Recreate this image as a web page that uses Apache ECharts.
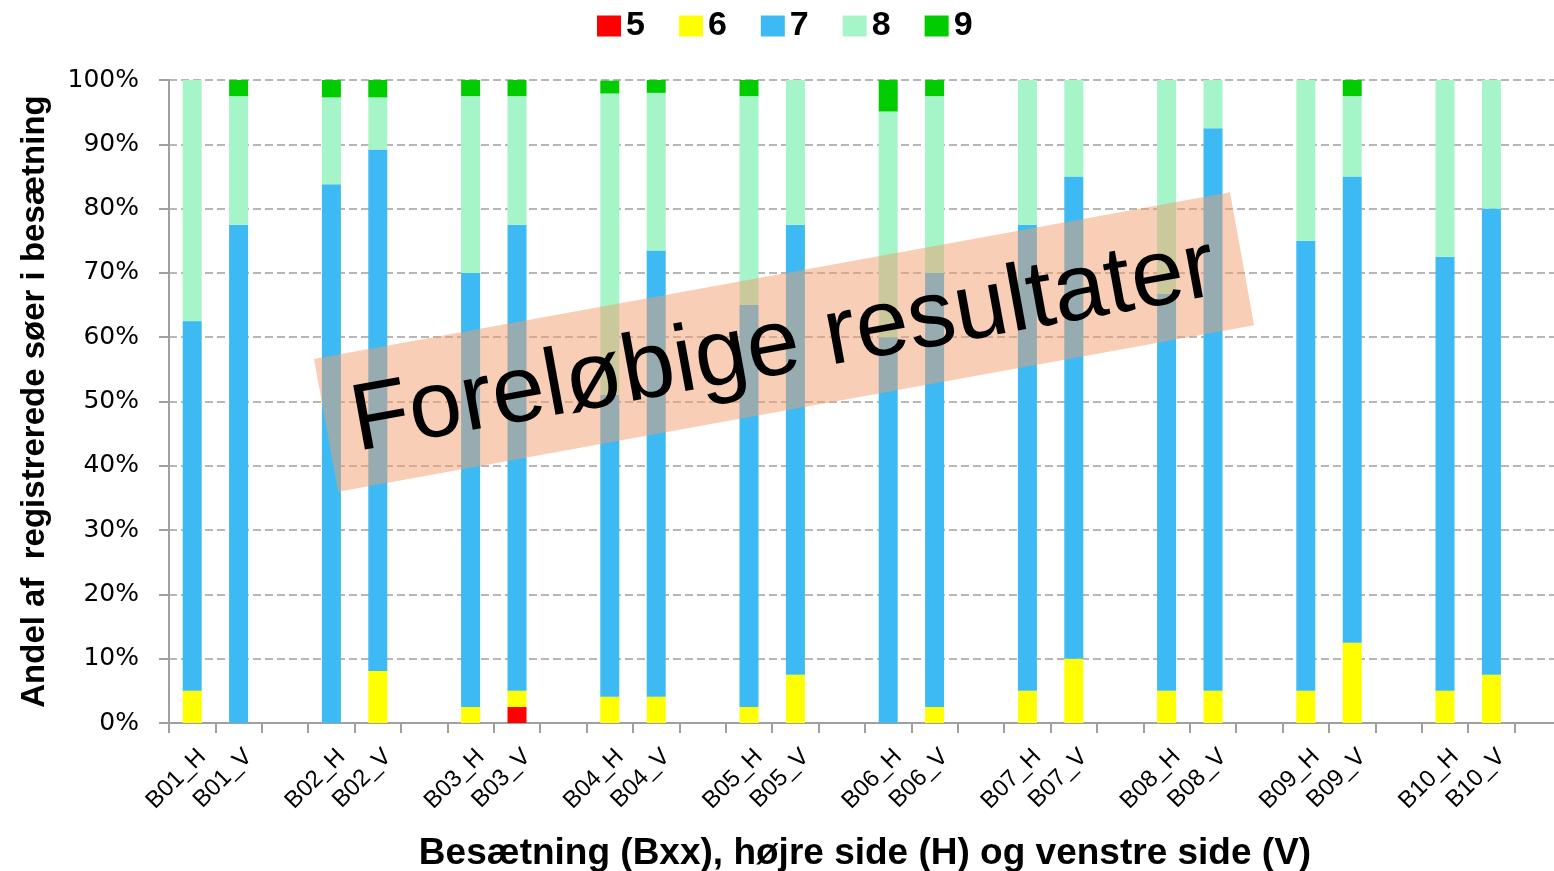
<!DOCTYPE html>
<html>
<head>
<meta charset="utf-8">
<title>Foreløbige resultater</title>
<script src="https://cdn.jsdelivr.net/npm/echarts@6/dist/echarts.min.js"></script>
<style>
  html, body { margin: 0; padding: 0; background: #fff; }
  #chart { width: 1554px; height: 871px; }
</style>
</head>
<body>
<div id="chart"></div>
<script>
// herds, each with right side (H) and left side (V); an empty slot follows every herd
const herds = ['B01', 'B02', 'B03', 'B04', 'B05', 'B06', 'B07', 'B08', 'B09', 'B10'];
const sides = ['H', 'V'];
const seriesNames = ['5', '6', '7', '8', '9'];
const seriesColors = ['#ff0000', '#ffff00', '#3dbaf3', '#a5f5c8', '#00cc00'];
const yTicks = [0, 10, 20, 30, 40, 50, 60, 70, 80, 90, 100];

// share in % per bar, order: B01_H, B01_V, B02_H, B02_V, ... B10_H, B10_V
const score5 = [0, 0, 0, 0, 0, 2.5, 0, 0, 0, 0, 0, 0, 0, 0, 0, 0, 0, 0, 0, 0];
const score6 = [5, 0, 0, 8.1, 2.5, 2.5, 4.1, 4.1, 2.5, 7.5, 0, 2.5, 5, 10, 5, 5, 5, 12.5, 5, 7.5];
const score7 = [57.5, 77.5, 83.8, 81.1, 67.5, 72.5, 46.9, 69.4, 62.5, 70, 60, 67.5, 72.5, 75, 61.7, 87.5, 70, 72.5, 67.5, 72.5];
const score8 = [37.5, 20, 13.5, 8.1, 27.5, 20, 46.9, 24.5, 32.5, 22.5, 35.1, 27.5, 22.5, 15, 33.3, 7.5, 25, 12.5, 27.5, 20];
const score9 = [0, 2.5, 2.7, 2.7, 2.5, 2.5, 2.0, 2.0, 2.5, 0, 4.9, 2.5, 0, 0, 0, 0, 0, 2.5, 0, 0];

const chart = echarts.init(document.getElementById('chart'));

// categories: H, V and a blank slot per herd
const categories = [];
herds.forEach((h, i) => {
  sides.forEach((s) => categories.push(h + '_' + s));
  categories.push('gap' + i);
});

// spread the 20 values over the 30 slots, blank slot gets null
const withGaps = (vals) => {
  const out = [];
  for (let i = 0; i < vals.length; i += 2) {
    out.push(vals[i], vals[i + 1], null);
  }
  return out;
};

const allScores = [score5, score6, score7, score8, score9];

const option = {
  animation: false,
  backgroundColor: '#ffffff',
  legend: {
    top: 4,
    left: 592,
    icon: 'rect',
    itemWidth: 24,
    itemHeight: 21,
    itemGap: 34,
    textStyle: {
      fontFamily: 'Liberation Sans',
      fontWeight: 'bold',
      fontSize: 34,
      color: '#000',
    },
    data: seriesNames,
  },
  grid: {
    left: 169,
    top: 80,
    width: 1392,
    height: 643,
    containLabel: false,
    outerBoundsMode: 'none',
  },
  xAxis: {
    type: 'category',
    data: categories,
    name: 'Besætning (Bxx), højre side (H) og venstre side (V)',
    nameLocation: 'middle',
    nameGap: 112,
    nameTextStyle: {
      fontFamily: 'Liberation Sans',
      fontWeight: 'bold',
      fontSize: 37,
      color: '#000',
    },
    axisLine: { lineStyle: { color: '#a0a0a0', width: 2 } },
    axisTick: { show: true, length: 10, lineStyle: { color: '#a0a0a0', width: 2 } },
    axisLabel: {
      interval: 0,
      rotate: 45,
      margin: 40,
      padding: [0, -14, 0, 0],
      fontFamily: 'Liberation Sans',
      fontSize: 24,
      color: '#000',
      formatter: (v) => (v.indexOf('gap') === 0 ? '' : v),
    },
  },
  yAxis: {
    type: 'value',
    min: yTicks[0],
    max: yTicks[yTicks.length - 1],
    interval: 10,
    name: 'Andel af  registrerede søer i besætning',
    nameLocation: 'middle',
    nameGap: 118,
    nameTextStyle: {
      fontFamily: 'Liberation Sans',
      fontWeight: 'bold',
      fontSize: 33,
      color: '#000',
    },
    axisLine: { show: true, lineStyle: { color: '#a0a0a0', width: 2 } },
    axisTick: { show: true, length: 10, lineStyle: { color: '#a0a0a0', width: 2 } },
    axisLabel: {
      margin: 30,
      fontFamily: 'DejaVu Sans',
      fontSize: 25,
      color: '#000',
      formatter: '{value}%',
    },
    splitLine: {
      lineStyle: { color: '#a0a0a0', type: [8, 4], width: 1.5 },
    },
  },
  series: seriesNames.map((name, i) => ({
    name: name,
    type: 'bar',
    stack: 'share',
    barWidth: 19,
    itemStyle: { color: seriesColors[i] },
    data: withGaps(allScores[i]),
  })),
  graphic: [
    {
      type: 'group',
      x: 314,
      y: 359,
      rotation: 0.18,
      z: 100,
      children: [
        {
          type: 'rect',
          z: 100,
          shape: { x: 0, y: 0, width: 931, height: 135 },
          style: { fill: 'rgba(241, 157, 111, 0.5)' },
        },
        {
          type: 'text',
          z: 101,
          x: 26,
          y: 72,
          style: {
            text: 'Foreløbige resultater',
            font: '95px "Liberation Sans", Arial, sans-serif',
            fill: '#000',
            verticalAlign: 'middle',
          },
        },
      ],
    },
  ],
};

chart.setOption(option);
</script>
</body>
</html>
